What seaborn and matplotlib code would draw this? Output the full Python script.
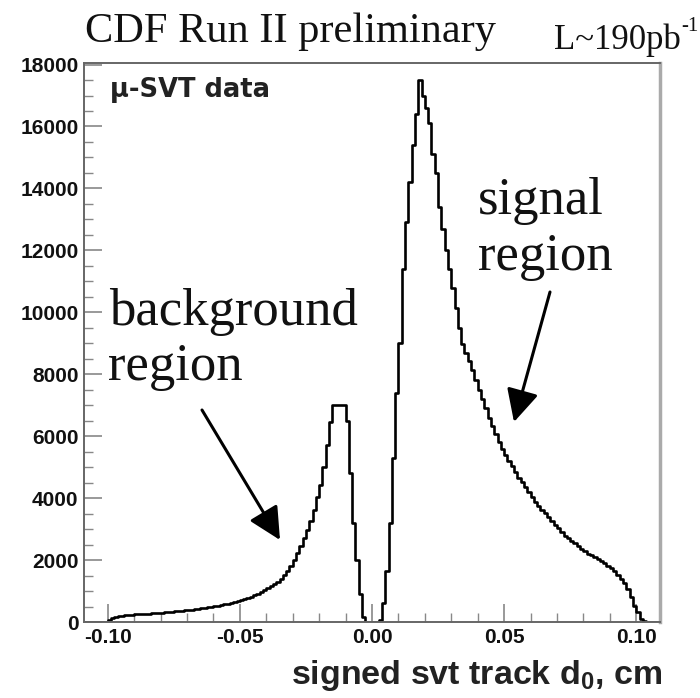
import numpy as np
import pandas as pd
import matplotlib
matplotlib.use("Agg")
import matplotlib.pyplot as plt
import seaborn as sns

# ---- data ----
bin_width = 0.00125
bin_edges = [round(-0.110 + bin_width * k, 6) for k in range(177)]
bin_centers = [round((a + b) / 2, 6) for a, b in zip(bin_edges[:-1], bin_edges[1:])]
counts = [
    0, 0, 0, 0, 0, 0, 0, 0, 60, 120,
    160, 185, 200, 215, 230, 238, 245, 252, 258, 265,
    272, 278, 285, 292, 300, 310, 322, 333, 345, 356,
    368, 378, 390, 403, 418, 432, 447, 461, 476, 490,
    510, 528, 548, 567, 587, 615, 645, 675, 705, 740,
    775, 820, 865, 915, 965, 1040, 1100, 1170, 1230, 1290,
    1400, 1530, 1660, 1800, 2010, 2220, 2450, 2700, 2980, 3250,
    3630, 4030, 4430, 5000, 5700, 6450, 7000, 7000, 7000, 7000,
    6500, 4800, 3200, 2000, 900, 150, 0, 0, 0, 0,
    60, 600, 1650, 3200, 5300, 7400, 9000, 11400, 12900, 14200,
    15400, 16400, 17500, 17000, 16600, 16100, 15100, 14500, 13400, 12700,
    12000, 11400, 10800, 10150, 9500, 8980, 8700, 8420, 8150, 7800,
    7500, 7210, 6910, 6580, 6330, 6080, 5820, 5580, 5400, 5210,
    5030, 4840, 4660, 4510, 4360, 4200, 4050, 3880, 3750, 3630,
    3510, 3390, 3260, 3140, 3020, 2900, 2790, 2700, 2630, 2540,
    2440, 2370, 2280, 2210, 2150, 2090, 2040, 1970, 1900, 1820,
    1740, 1660, 1520, 1380, 1250, 1080, 800, 530, 320, 100,
    30, 0, 0, 0, 0, 0,
]
x_ticks = [-0.10, -0.05, 0.00, 0.05, 0.10]
x_tick_labels = ["-0.10", "-0.05", "0.00", "0.05", "0.10"]
y_ticks = [0, 2000, 4000, 6000, 8000, 10000, 12000, 14000, 16000, 18000]

df = pd.DataFrame({"d0": bin_centers, "n": counts})

sns.set_theme(style="white")
plt.rcParams["mathtext.fontset"] = "custom"
plt.rcParams["mathtext.rm"] = "Liberation Serif"
plt.rcParams["mathtext.bf"] = "Liberation Sans:bold"

W, H = 700, 698
fig = plt.figure(figsize=(W / 100, H / 100), dpi=100)
ax = fig.add_axes([84 / W, 1 - 622 / H, (660 - 84) / W, (622 - 63) / H])

sns.histplot(data=df, x="d0", weights="n", bins=bin_edges, element="step",
             fill=False, color="black", linewidth=1.9, ax=ax)

ax.set_xlim(-0.109, 0.109)
ax.set_ylim(0, 18050)
ax.set_xticks(x_ticks)
ax.set_xticklabels(x_tick_labels)
ax.set_yticks(y_ticks)
ax.set_yticklabels([str(v) for v in y_ticks])
ax.set_xticks(np.round(np.arange(-0.10, 0.101, 0.01), 3), minor=True)
ax.set_yticks(np.arange(0, 18001, 500), minor=True)
ax.set_xlabel("")
ax.set_ylabel("")

tick_font = dict(family="Liberation Sans", weight="bold", size=15)
for lab in ax.get_xticklabels() + ax.get_yticklabels():
    lab.set_fontproperties(matplotlib.font_manager.FontProperties(**tick_font))
    lab.set_color("#111111")

ax.tick_params(axis="both", which="major", direction="in", length=13,
               width=1.2, color="#888888", pad=4)
ax.tick_params(axis="both", which="minor", direction="in", length=6.5,
               width=1.0, color="#888888")
ax.tick_params(axis="x", which="both", top=False, bottom=True)
ax.tick_params(axis="y", which="both", left=True, right=False)

for side in ["left", "bottom", "top"]:
    ax.spines[side].set_color("#666666")
    ax.spines[side].set_linewidth(1.4)
ax.spines["right"].set_color("#aaaaaa")
ax.spines["right"].set_linewidth(2.5)

def fx(px):
    return px / W

def fy(py):
    return 1 - py / H

# texts
fig.text(fx(85), fy(42), "CDF Run II preliminary", family="Liberation Serif",
         size=30.5, ha="left", va="baseline", color="#111111")
fig.text(fx(681), fy(49), "L~190pb", family="Liberation Serif",
         size=25, ha="right", va="baseline", color="#111111")
fig.text(fx(681), fy(31), "-1", family="Liberation Serif",
         size=15, ha="left", va="baseline", color="#111111")
fig.text(fx(110), fy(97), "\u03bc-SVT data", family="DejaVu Sans", weight="bold",
         size=18.5, ha="left", va="baseline", color="#222222")
fig.text(fx(109), fy(325), "background", family="Liberation Serif",
         size=38, ha="left", va="baseline", color="#111111")
fig.text(fx(108), fy(380), "region", family="Liberation Serif",
         size=38, ha="left", va="baseline", color="#111111")
fig.text(fx(478), fy(214), "signal", family="Liberation Serif",
         size=38, ha="left", va="baseline", color="#111111")
fig.text(fx(478), fy(270), "region", family="Liberation Serif",
         size=38, ha="left", va="baseline", color="#111111")
fig.text(fx(662), fy(684), r"signed svt track d$_{\mathbf{0}}$, cm", family="Liberation Sans",
         weight="bold", size=24.5, ha="right", va="baseline", color="#222222")

# arrows
arrow_kw = dict(arrowstyle="-|>,head_length=0.9,head_width=0.45", lw=2.2,
                color="black", mutation_scale=22, shrinkA=0, shrinkB=0)
fig.patches.append(matplotlib.patches.FancyArrowPatch(
    (fx(202), fy(410)), (fx(280), fy(540)), transform=fig.transFigure, **arrow_kw))
fig.patches.append(matplotlib.patches.FancyArrowPatch(
    (fx(550), fy(292)), (fx(514), fy(422)), transform=fig.transFigure, **arrow_kw))

fig.savefig("out.png", dpi=100, facecolor="white")
